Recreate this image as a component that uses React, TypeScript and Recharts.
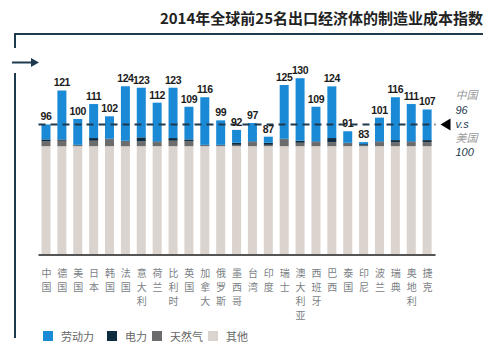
import React from "react";
import {
  Bar,
  BarChart,
  LabelList,
  ReferenceLine,
  XAxis,
  YAxis,
} from "recharts";

// 2014 manufacturing cost index, top 25 exporters. Stacked: other, gas,
// electricity, labour; label on top shows the total index (US = 100).

const COUNTRIES = [
  "中国", "德国", "美国", "日本", "韩国", "法国", "意大利", "荷兰", "比利时",
  "英国", "加拿大", "俄罗斯", "墨西哥", "台湾", "印度", "瑞士", "澳大利亚",
  "西班牙", "巴西", "泰国", "印尼", "波兰", "瑞典", "奥地利", "捷克",
];
const TOTAL = [96, 121, 100, 111, 102, 124, 123, 112, 123, 109, 116, 99, 92, 97, 87, 125, 130, 109, 124, 91, 83, 101, 116, 111, 107];
const OTHER = [80, 80, 80, 80, 80, 80, 80, 80, 80, 80, 80, 80, 80, 80, 80, 80, 80, 80, 80, 80, 80, 80, 80, 80, 80];
const GAS = [3.5, 4, 0.5, 4, 5, 3.5, 3.5, 3, 4, 3.5, 0.5, 0.5, 1, 3, 1, 5, 2.5, 3, 3, 2, 0.5, 3, 3, 3, 3];
const POWER = [1.5, 1, 0.5, 2, 0.5, 0.5, 3, 0.5, 2, 1.5, 0.5, 0.5, 1.5, 0.5, 1.5, 0.5, 1.5, 0.5, 3, 0.5, 1, 0.5, 1.5, 0.5, 1.5];
const LABOUR = [11, 36, 19, 25, 16.5, 40, 36.5, 28.5, 37, 24, 35, 18, 9.5, 13.5, 4.5, 39.5, 46, 25.5, 38, 8.5, 1.5, 17.5, 31.5, 27.5, 22.5];

const CHINA_INDEX = 96;

const data = COUNTRIES.map((name, i) => ({
  name,
  total: TOTAL[i],
  other: OTHER[i],
  gas: GAS[i],
  power: POWER[i],
  labour: LABOUR[i],
}));

const C_LABOUR = "#1a8ad6";
const C_POWER = "#0f2b40";
const C_GAS = "#6c6c6c";
const C_OTHER = "#dbd3cd";
const NAVY = "#1d3a4e";

const CJK = "'Noto Sans CJK SC', sans-serif";

// one character per line, like the original's vertical labels
function VerticalTick({ x, y, payload }: any) {
  const chars = String(payload.value).split("");
  return (
    <g>
      {chars.map((c, i) => (
        <text
          key={i}
          x={x}
          y={y + 14 + i * 14}
          textAnchor="middle"
          fill="#7c7f85"
          fontSize={10}
          fontFamily={CJK}
        >
          {c}
        </text>
      ))}
    </g>
  );
}

function CompareMarker({ viewBox }: any) {
  const y = viewBox.y;
  const x = viewBox.x + viewBox.width + 5;
  const tx = x + 15;
  return (
    <g>
      <polygon points={`${x},${y} ${x + 10},${y - 6} ${x + 10},${y + 6}`} fill="#000" />
      <text x={tx} y={y - 25} fill="#9a9a9a" fontSize={11} fontStyle="italic" fontFamily={CJK}>中国</text>
      <text x={tx} y={y - 10} fill={NAVY} fontSize={11} fontStyle="italic" fontFamily="'Liberation Sans', Arial">96</text>
      <text x={tx} y={y + 4} fill={NAVY} fontSize={11} fontStyle="italic" fontFamily="'Liberation Sans', Arial">v.s</text>
      <text x={tx} y={y + 18} fill="#9a9a9a" fontSize={11} fontStyle="italic" fontFamily={CJK}>美国</text>
      <text x={tx} y={y + 32} fill={NAVY} fontSize={11} fontStyle="italic" fontFamily="'Liberation Sans', Arial">100</text>
    </g>
  );
}

const LEGEND = [
  { label: "劳动力", color: C_LABOUR, left: 43 },
  { label: "电力", color: C_POWER, left: 107 },
  { label: "天然气", color: C_GAS, left: 152 },
  { label: "其他", color: C_OTHER, left: 208 },
];

export default function App() {
  return (
    <div style={{ position: "absolute", left: 0, top: 0, width: 500, height: 353, background: "#fff" }}>
      <BarChart
        width={500}
        height={353}
        data={data}
        margin={{ top: 64.6, right: 64.5, left: 38.5, bottom: 38 }}
      >
        <XAxis
          dataKey="name"
          interval={0}
          height={60}
          tickLine={false}
          axisLine={{ stroke: "#555", strokeWidth: 2 }}
          tick={<VerticalTick />}
        />
        <YAxis hide domain={[0, 140]} />
        <Bar dataKey="other" stackId="a" fill={C_OTHER} barSize={9} isAnimationActive={false} />
        <Bar dataKey="gas" stackId="a" fill={C_GAS} barSize={9} isAnimationActive={false} />
        <Bar dataKey="power" stackId="a" fill={C_POWER} barSize={9} isAnimationActive={false} />
        <Bar dataKey="labour" stackId="a" fill={C_LABOUR} barSize={9} isAnimationActive={false}>
          <LabelList
            dataKey="total"
            position="top"
            offset={4}
            fill="#1b1b1b"
            fontSize={10.5}
            letterSpacing={-0.4}
            fontWeight="bold"
            fontFamily="'Liberation Sans', Arial"
          />
        </Bar>
        <ReferenceLine
          y={CHINA_INDEX}
          stroke={NAVY}
          strokeWidth={2}
          strokeDasharray="7 5"
          label={<CompareMarker />}
        />
      </BarChart>

      <svg
        width={500}
        height={353}
        style={{ position: "absolute", left: 0, top: 0, pointerEvents: "none" }}
      >
        <text
          x={483}
          y={24}
          textAnchor="end"
          fontSize={15}
          fontWeight="bold"
          fill="#222"
          fontFamily={CJK}
        >
          2014年全球前25名出口经济体的制造业成本指数
        </text>
        <polyline points="15,48 15,34 483,34" fill="none" stroke={NAVY} strokeWidth={2} />
        <line x1={12} y1={62.5} x2={33} y2={62.5} stroke={NAVY} strokeWidth={2} />
        <polygon points="39,62.5 31,58 31,67" fill={NAVY} />
        <line x1={15} y1={73} x2={15} y2={338} stroke={NAVY} strokeWidth={2} />
      </svg>

      {LEGEND.map((item) => (
        <div
          key={item.label}
          style={{
            position: "absolute",
            left: item.left,
            top: 328,
            display: "flex",
            alignItems: "center",
            fontFamily: CJK,
            fontSize: 11,
            color: "#666",
          }}
        >
          <span style={{ display: "inline-block", width: 10, height: 10, background: item.color, marginRight: 8 }} />
          {item.label}
        </div>
      ))}
    </div>
  );
}
